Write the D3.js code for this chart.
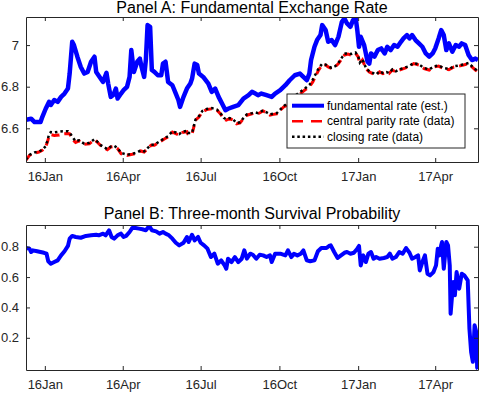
<!DOCTYPE html>
<html>
<head>
<meta charset="utf-8">
<script src="https://cdn.jsdelivr.net/npm/d3@7"></script>
<style>
  body { margin: 0; background: #fff; }
  svg { display: block; font-family: "Liberation Sans", Arial, Helvetica, sans-serif; }
</style>
</head>
<body>
<div id="chart"></div>
<script>
// ---- data ----
const tickDates = ["2016-01-01", "2016-04-01", "2016-07-01", "2016-10-01", "2017-01-01", "2017-04-01"];
const tickLabels = ["16Jan", "16Apr", "16Jul", "16Oct", "17Jan", "17Apr"];
const ticksA = [6.6, 6.8, 7];
const ticksB = [0.2, 0.4, 0.6, 0.8];
const seriesNames = ["fundamental rate (est.)", "central parity rate (data)", "closing rate (data)"];

const fundDates = ["2015-12-10","2015-12-16","2015-12-20","2015-12-27","2015-12-29","2016-01-02","2016-01-06","2016-01-08",
  "2016-01-12","2016-01-16","2016-01-20","2016-01-24","2016-01-28","2016-01-30","2016-02-02","2016-02-04","2016-02-08",
  "2016-02-12","2016-02-16","2016-02-20","2016-02-24","2016-02-28","2016-03-01","2016-03-05","2016-03-09","2016-03-13",
  "2016-03-15","2016-03-18","2016-03-21","2016-03-24","2016-03-26","2016-03-30","2016-04-02","2016-04-06","2016-04-09",
  "2016-04-11","2016-04-14","2016-04-18","2016-04-21","2016-04-23","2016-04-26","2016-04-28","2016-04-30","2016-05-03",
  "2016-05-05","2016-05-08","2016-05-12","2016-05-16","2016-05-18","2016-05-21","2016-05-24","2016-05-29","2016-06-02",
  "2016-06-05","2016-06-07","2016-06-11","2016-06-15","2016-06-19","2016-06-21","2016-06-24","2016-06-27","2016-06-29",
  "2016-07-04","2016-07-10","2016-07-14","2016-07-18","2016-07-22","2016-07-26","2016-07-30","2016-08-02","2016-08-08",
  "2016-08-14","2016-08-20","2016-08-26","2016-08-30","2016-09-03","2016-09-06","2016-09-10","2016-09-16","2016-09-22",
  "2016-09-26","2016-10-02","2016-10-08","2016-10-13","2016-10-19","2016-10-25","2016-10-29","2016-11-02","2016-11-05",
  "2016-11-07","2016-11-11","2016-11-14","2016-11-18","2016-11-20","2016-11-24","2016-11-27","2016-12-01","2016-12-05",
  "2016-12-09","2016-12-13","2016-12-16","2016-12-19","2016-12-23","2016-12-26","2016-12-29","2016-12-31","2017-01-02",
  "2017-01-04","2017-01-08","2017-01-12","2017-01-14","2017-01-16","2017-01-20","2017-01-24","2017-01-28","2017-02-01",
  "2017-02-04","2017-02-08","2017-02-12","2017-02-16","2017-02-20","2017-02-23","2017-02-27","2017-03-02","2017-03-05",
  "2017-03-09","2017-03-13","2017-03-17","2017-03-21","2017-03-25","2017-03-29","2017-04-01","2017-04-05","2017-04-08",
  "2017-04-11","2017-04-14","2017-04-17","2017-04-21","2017-04-25","2017-04-29","2017-05-02","2017-05-06","2017-05-10",
  "2017-05-14","2017-05-18","2017-05-21"];
const fundValues = [6.641,6.646,6.630,6.630,6.654,6.694,6.727,6.712,
  6.736,6.727,6.751,6.767,6.791,6.863,7.016,7.000,6.944,
  6.895,6.863,6.871,6.920,6.944,6.871,6.847,6.823,6.867,
  6.815,6.751,6.760,6.791,6.743,6.767,6.783,6.799,6.847,
  6.976,6.871,6.920,6.935,6.895,6.847,6.928,7.096,7.088,
  6.880,6.871,6.855,6.855,6.911,6.920,6.823,6.807,6.767,
  6.736,6.703,6.751,6.791,6.815,6.839,6.911,6.904,6.863,
  6.847,6.815,6.775,6.791,6.751,6.719,6.687,6.694,6.703,
  6.711,6.743,6.759,6.775,6.767,6.759,6.767,6.759,6.751,
  6.767,6.783,6.807,6.831,6.855,6.863,6.847,6.831,6.863,
  6.928,6.992,7.024,7.048,7.096,7.072,7.016,7.024,7.000,
  7.040,7.112,7.128,7.104,7.088,7.120,7.134,7.072,6.992,
  7.040,7.000,6.920,6.911,6.960,6.944,6.976,6.984,6.960,
  6.992,6.976,7.000,6.992,7.016,7.032,7.048,7.032,7.048,
  7.024,7.008,6.992,6.960,6.944,6.960,6.984,7.032,7.072,
  7.048,6.976,7.008,6.968,7.000,6.992,7.008,7.000,6.952,
  6.928,6.935,6.928];

const rateDates = ["2015-12-10","2015-12-14","2015-12-20","2015-12-25","2015-12-29","2016-01-02","2016-01-04","2016-01-06",
  "2016-01-08","2016-01-12","2016-01-18","2016-01-22","2016-01-28","2016-01-30","2016-02-02","2016-02-06","2016-02-10",
  "2016-02-16","2016-02-22","2016-02-28","2016-03-02","2016-03-06","2016-03-10","2016-03-14","2016-03-18","2016-03-22",
  "2016-03-26","2016-03-30","2016-04-02","2016-04-06","2016-04-12","2016-04-18","2016-04-22","2016-04-26","2016-04-30",
  "2016-05-04","2016-05-08","2016-05-12","2016-05-16","2016-05-20","2016-05-24","2016-05-29","2016-06-02","2016-06-06",
  "2016-06-10","2016-06-15","2016-06-16","2016-06-21","2016-06-25","2016-06-29","2016-07-03","2016-07-08","2016-07-14",
  "2016-07-20","2016-07-24","2016-07-28","2016-07-31","2016-08-04","2016-08-08","2016-08-12","2016-08-16","2016-08-20",
  "2016-08-24","2016-08-30","2016-09-02","2016-09-06","2016-09-12","2016-09-16","2016-09-20","2016-09-24","2016-09-28",
  "2016-10-02","2016-10-06","2016-10-10","2016-10-13","2016-10-19","2016-10-25","2016-10-31","2016-11-05","2016-11-09",
  "2016-11-13","2016-11-16","2016-11-20","2016-11-24","2016-11-27","2016-12-01","2016-12-05","2016-12-09","2016-12-13",
  "2016-12-16","2016-12-20","2016-12-24","2016-12-29","2017-01-01","2017-01-03","2017-01-06","2017-01-10","2017-01-14",
  "2017-01-18","2017-01-22","2017-01-26","2017-01-30","2017-02-03","2017-02-06","2017-02-10","2017-02-14","2017-02-18",
  "2017-02-23","2017-03-01","2017-03-07","2017-03-13","2017-03-19","2017-03-25","2017-03-31","2017-04-05","2017-04-11",
  "2017-04-17","2017-04-23","2017-04-29","2017-05-04","2017-05-10","2017-05-14","2017-05-18","2017-05-21"];
const parityValues = [6.447,6.470,6.481,6.486,6.494,6.510,6.534,6.563,
  6.570,6.566,6.568,6.573,6.575,6.573,6.548,6.532,6.539,
  6.523,6.526,6.545,6.534,6.518,6.507,6.497,6.510,6.513,
  6.502,6.478,6.475,6.470,6.475,6.481,6.491,6.486,6.502,
  6.518,6.518,6.529,6.539,6.550,6.558,6.582,6.574,6.566,
  6.580,6.584,6.574,6.573,6.639,6.654,6.679,6.690,6.694,
  6.687,6.670,6.646,6.639,6.646,6.639,6.622,6.626,6.646,
  6.663,6.670,6.674,6.670,6.683,6.674,6.663,6.667,6.670,
  6.687,6.703,6.711,6.727,6.746,6.765,6.785,6.799,6.823,
  6.857,6.881,6.905,6.904,6.895,6.887,6.895,6.911,6.935,
  6.952,6.957,6.952,6.960,6.944,6.911,6.928,6.887,6.871,
  6.863,6.855,6.871,6.863,6.867,6.863,6.880,6.871,6.880,
  6.887,6.895,6.911,6.904,6.887,6.880,6.895,6.899,6.887,
  6.882,6.895,6.899,6.904,6.911,6.895,6.880,6.871];
const closingValues = [6.450,6.472,6.484,6.488,6.497,6.514,6.540,6.572,
  6.582,6.580,6.584,6.586,6.586,6.580,6.560,6.538,6.542,
  6.526,6.530,6.548,6.537,6.520,6.509,6.500,6.512,6.516,
  6.505,6.482,6.478,6.473,6.477,6.484,6.494,6.489,6.505,
  6.521,6.521,6.532,6.542,6.553,6.562,6.586,6.580,6.572,
  6.584,6.588,6.578,6.578,6.642,6.658,6.683,6.693,6.697,
  6.690,6.674,6.650,6.643,6.649,6.642,6.626,6.629,6.649,
  6.667,6.673,6.677,6.673,6.686,6.677,6.667,6.670,6.673,
  6.690,6.707,6.718,6.735,6.755,6.774,6.792,6.808,6.834,
  6.866,6.890,6.910,6.906,6.898,6.890,6.898,6.915,6.940,
  6.958,6.962,6.957,6.964,6.947,6.916,6.932,6.891,6.874,
  6.866,6.858,6.874,6.866,6.870,6.866,6.883,6.874,6.883,
  6.890,6.898,6.914,6.907,6.890,6.883,6.898,6.902,6.890,
  6.885,6.898,6.902,6.907,6.914,6.898,6.884,6.875];

const survDates = ["2015-12-10","2015-12-14","2015-12-16","2015-12-18","2015-12-23","2015-12-27","2015-12-31","2016-01-03",
  "2016-01-05","2016-01-08","2016-01-12","2016-01-16","2016-01-20","2016-01-24","2016-01-28","2016-01-30","2016-02-02",
  "2016-02-06","2016-02-12","2016-02-18","2016-02-24","2016-03-01","2016-03-04","2016-03-09","2016-03-12","2016-03-16",
  "2016-03-19","2016-03-22","2016-03-26","2016-03-30","2016-04-02","2016-04-05","2016-04-09","2016-04-12","2016-04-16",
  "2016-04-20","2016-04-24","2016-04-28","2016-05-02","2016-05-05","2016-05-10","2016-05-14","2016-05-18","2016-05-21",
  "2016-05-25","2016-05-29","2016-06-02","2016-06-06","2016-06-11","2016-06-15","2016-06-17","2016-06-21","2016-06-24",
  "2016-06-28","2016-07-01","2016-07-05","2016-07-09","2016-07-13","2016-07-17","2016-07-21","2016-07-25","2016-07-29",
  "2016-07-31","2016-08-02","2016-08-06","2016-08-10","2016-08-14","2016-08-18","2016-08-21","2016-08-24","2016-08-28",
  "2016-08-31","2016-09-04","2016-09-08","2016-09-12","2016-09-16","2016-09-20","2016-09-22","2016-09-26","2016-10-02",
  "2016-10-08","2016-10-11","2016-10-15","2016-10-18","2016-10-22","2016-10-26","2016-10-29","2016-11-02","2016-11-06",
  "2016-11-11","2016-11-15","2016-11-19","2016-11-25","2016-11-28","2016-11-30","2016-12-04","2016-12-08","2016-12-12",
  "2016-12-16","2016-12-19","2016-12-23","2016-12-27","2016-12-31","2017-01-02","2017-01-04","2017-01-07","2017-01-10",
  "2017-01-13","2017-01-16","2017-01-19","2017-01-22","2017-01-26","2017-01-31","2017-02-04","2017-02-07","2017-02-10",
  "2017-02-14","2017-02-18","2017-02-22","2017-02-26","2017-03-02","2017-03-05","2017-03-09","2017-03-12","2017-03-14",
  "2017-03-17","2017-03-20","2017-03-23","2017-03-26","2017-03-30","2017-04-02","2017-04-04","2017-04-06","2017-04-08",
  "2017-04-09","2017-04-11","2017-04-14","2017-04-16","2017-04-18","2017-04-19","2017-04-22","2017-04-24","2017-04-26",
  "2017-04-29","2017-05-02","2017-05-05","2017-05-09","2017-05-11","2017-05-13","2017-05-15","2017-05-17","2017-05-19",
  "2017-05-20","2017-05-21"];
const survValues = [0.791,0.787,0.765,0.776,0.770,0.765,0.760,0.754,
  0.704,0.688,0.699,0.710,0.743,0.770,0.805,0.853,0.871,
  0.864,0.859,0.871,0.875,0.879,0.875,0.886,0.875,0.908,
  0.864,0.853,0.875,0.886,0.864,0.871,0.897,0.923,0.923,
  0.919,0.915,0.908,0.937,0.908,0.901,0.886,0.897,0.886,
  0.875,0.853,0.826,0.809,0.826,0.864,0.831,0.879,0.842,
  0.864,0.826,0.809,0.787,0.732,0.754,0.688,0.710,0.677,
  0.655,0.721,0.699,0.732,0.699,0.721,0.776,0.721,0.754,
  0.747,0.721,0.747,0.743,0.732,0.743,0.699,0.754,0.754,
  0.743,0.776,0.732,0.754,0.743,0.754,0.776,0.710,0.704,
  0.710,0.770,0.791,0.791,0.805,0.809,0.765,0.726,0.743,
  0.760,0.765,0.754,0.760,0.787,0.805,0.677,0.743,0.699,
  0.754,0.765,0.721,0.732,0.721,0.726,0.732,0.754,0.721,
  0.732,0.765,0.754,0.791,0.760,0.721,0.732,0.743,0.644,
  0.699,0.743,0.622,0.611,0.633,0.677,0.787,0.743,0.809,
  0.831,0.655,0.831,0.809,0.677,0.358,0.567,0.480,0.633,
  0.523,0.622,0.611,0.578,0.259,0.106,0.042,0.282,0.238,
  0.005,-0.005];

// ---- layout ----
const width = 480, height = 394;
const left = 26, right = 478;
const panelA = { top: 17, bottom: 162 };
const panelB = { top: 225, bottom: 370 };
const axisColor = "#262626";

const parse = d3.utcParse("%Y-%m-%d");
const zip = (dates, vals) => dates.map((d, i) => ({ date: parse(d), value: vals[i] }));

const svg = d3.select("#chart")
    .append("svg")
    .attr("width", width)
    .attr("height", height);

const x = d3.scaleUtc()
    .domain([parse("2015-12-10"), parse("2017-05-21")])
    .range([left, right]);

const yA = d3.scaleLinear().domain([6.438, 7.135]).range([panelA.bottom, panelA.top]);
const yB = d3.scaleLinear().domain([-0.012, 0.943]).range([panelB.bottom, panelB.top]);

function frame(panel, y, ticks, fmt, id) {
    const g = svg.append("g");
    svg.append("clipPath").attr("id", id)
        .append("rect")
        .attr("x", left).attr("y", panel.top)
        .attr("width", right - left).attr("height", panel.bottom - panel.top);

    const xt = tickDates.map(parse);
    const axes = [
        g.append("g").attr("transform", `translate(0,${panel.bottom})`)
            .call(d3.axisBottom(x).tickValues(xt).tickFormat((d, i) => tickLabels[i])
                .tickSizeInner(-4).tickSizeOuter(0).tickPadding(10)),
        g.append("g").attr("transform", `translate(0,${panel.top})`)
            .call(d3.axisTop(x).tickValues(xt).tickFormat("").tickSizeInner(-4).tickSizeOuter(0)),
        g.append("g").attr("transform", `translate(${left},0)`)
            .call(d3.axisLeft(y).tickValues(ticks).tickFormat(fmt)
                .tickSizeInner(-4).tickSizeOuter(0).tickPadding(7)),
        g.append("g").attr("transform", `translate(${right},0)`)
            .call(d3.axisRight(y).tickValues(ticks).tickFormat("").tickSizeInner(-4).tickSizeOuter(0))
    ];
    axes.forEach(a => {
        a.attr("font-family", null).attr("font-size", 13);
        a.selectAll("path, line").attr("stroke", axisColor);
        a.selectAll("text").attr("fill", axisColor);
    });
    return g;
}

function title(text, yPos) {
    svg.append("text")
        .attr("x", (left + right) / 2)
        .attr("y", yPos)
        .attr("text-anchor", "middle")
        .attr("font-size", 16)
        .attr("fill", "#000")
        .text(text);
}

// ---- Panel A ----
const lineA = d3.line().x(d => x(d.date)).y(d => yA(d.value));
const plotA = svg.append("g").attr("clip-path", "url(#clipA)");

plotA.append("path")
    .datum(zip(fundDates, fundValues))
    .attr("fill", "none").attr("stroke", "#0000ff").attr("stroke-width", 4.5)
    .attr("stroke-linejoin", "round")
    .attr("d", lineA);

plotA.append("path")
    .datum(zip(rateDates, parityValues))
    .attr("fill", "none").attr("stroke", "#ff0000").attr("stroke-width", 3)
    .attr("stroke-dasharray", "8,5")
    .attr("d", lineA);

plotA.append("path")
    .datum(zip(rateDates, closingValues))
    .attr("fill", "none").attr("stroke", "#000").attr("stroke-width", 2.5)
    .attr("stroke-dasharray", "2.5,3")
    .attr("d", lineA);

frame(panelA, yA, ticksA, d3.format("~g"), "clipA");
title("Panel A: Fundamental Exchange Rate", 12.5);

// legend
const legend = svg.append("g").attr("transform", "translate(287,94)");
legend.append("rect")
    .attr("width", 178).attr("height", 54)
    .attr("fill", "#fff").attr("stroke", axisColor).attr("stroke-width", 1);

const legendStyles = [
    { color: "#0000ff", w: 4, dash: null },
    { color: "#ff0000", w: 2.5, dash: "11,8" },
    { color: "#000", w: 2.5, dash: "2.5,2.8" }
];
seriesNames.forEach((name, i) => {
    const cy = 11.7 + i * 15.5;
    legend.append("line")
        .attr("x1", 5).attr("x2", 37).attr("y1", cy).attr("y2", cy)
        .attr("stroke", legendStyles[i].color)
        .attr("stroke-width", legendStyles[i].w)
        .attr("stroke-dasharray", legendStyles[i].dash);
    legend.append("text")
        .attr("x", 40).attr("y", cy).attr("dy", "0.35em")
        .attr("font-size", 12).attr("fill", "#000")
        .text(name);
});

// ---- Panel B ----
const lineB = d3.line().x(d => x(d.date)).y(d => yB(d.value));
svg.append("g").attr("clip-path", "url(#clipB)")
    .append("path")
    .datum(zip(survDates, survValues))
    .attr("fill", "none").attr("stroke", "#0000ff").attr("stroke-width", 4)
    .attr("stroke-linejoin", "round")
    .attr("d", lineB);

frame(panelB, yB, ticksB, d3.format(".1f"), "clipB");
title("Panel B: Three-month Survival Probability", 218.5);
</script>
</body>
</html>
